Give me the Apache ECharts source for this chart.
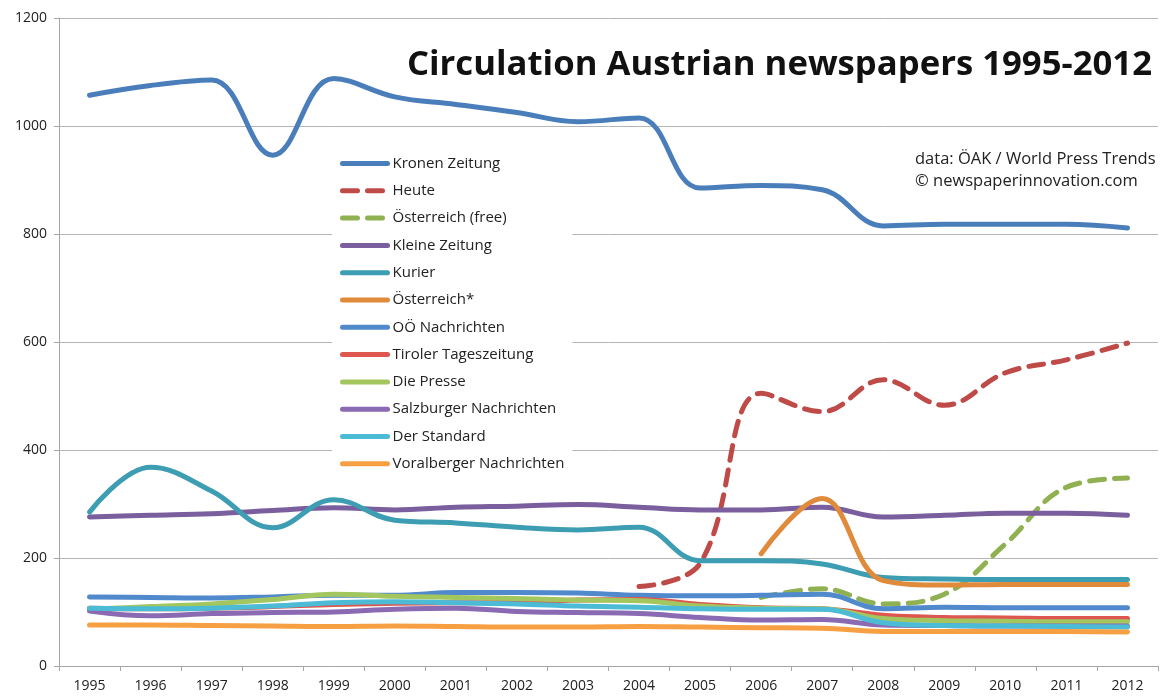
<!DOCTYPE html>
<html>
<head>
<meta charset="utf-8">
<script src="https://cdn.jsdelivr.net/npm/echarts@6/dist/echarts.min.js"></script>
<style>
  html, body { margin: 0; padding: 0; background: #fff; }
  #chart { width: 1160px; height: 696px; }
</style>
</head>
<body>
<div id="chart"></div>
<script>
const years = ['1995','1996','1997','1998','1999','2000','2001','2002','2003','2004','2005','2006','2007','2008','2009','2010','2011','2012']
const yTicks = [0, 200, 400, 600, 800, 1000, 1200]

// circulation in thousands
const kronenZeitung = [1057, 1075, 1085, 946, 1088, 1054, 1040, 1025, 1008, 1015, 885, 890, 882, 815, 818, 818, 818, 811]
const heute = [null, null, null, null, null, null, null, null, null, 147, 190, 505, 471, 530, 483, 543, 567, 598]
const oesterreichFree = [null, null, null, null, null, null, null, null, null, null, null, 127, 143, 115, 133, 226, 331, 348]
const kleineZeitung = [276, 279, 282, 288, 293, 289, 294, 296, 299, 294, 289, 289, 294, 276, 279, 283, 283, 279]
const kurier = [285, 368, 324, 256, 308, 270, 265, 257, 252, 257, 195, 195, 189, 164, 161, 160, 160, 160]
const oesterreich = [null, null, null, null, null, null, null, null, null, null, null, 208, 310, 158, 150, 151, 151, 151]
const ooeNachrichten = [128, 127, 126, 128, 131, 131, 136, 136, 135, 131, 130, 131, 133, 106, 109, 108, 108, 108]
const tirolerTageszeitung = [107, 106, 107, 110, 114, 116, 117, 118, 122, 123, 114, 108, 106, 94, 90, 89, 88, 88]
const diePresse = [105, 110, 115, 123, 133, 129, 127, 125, 122, 121, 111, 107, 106, 88, 84, 83, 82, 82]
const salzburgerNachrichten = [102, 93, 97, 99, 100, 105, 107, 101, 99, 97, 90, 85, 86, 76, 75, 74, 74, 74]
const derStandard = [107, 106, 107, 111, 117, 119, 117, 115, 111, 109, 106, 105, 105, 80, 75, 74, 73, 72]
const voralbergerNachrichten = [76, 76, 75, 74, 73, 74, 73, 72, 72, 73, 72, 71, 70, 64, 64, 64, 64, 63]

const FONT = '"Open Sans", "Noto Sans", sans-serif'

function line(name, data, color, dashed) {
  return {
    name,
    type: 'line',
    data,
    smooth: 0.4,
    symbol: 'none',
    connectNulls: false,
    lineStyle: {
      color,
      width: 5,
      cap: 'round',
      join: 'round',
      type: dashed ? [15, 10] : 'solid'
    },
    itemStyle: { color }
  }
}

const chart = echarts.init(document.getElementById('chart'))

const option = {
  animation: false,
  backgroundColor: '#fff',
  grid: { left: 59, right: 2, top: 18, bottom: 30 },
  graphic: [
    {
      type: 'text',
      right: 8,
      top: 48,
      style: { text: 'Circulation Austrian newspapers 1995-2012', font: 'bold 34.7px ' + FONT, fill: '#111' }
    },
    {
      type: 'text',
      left: 915,
      top: 151,
      style: { text: 'data: ÖAK / World Press Trends', font: '16.5px ' + FONT, fill: '#222' }
    },
    {
      type: 'text',
      left: 915,
      top: 173,
      style: { text: '© newspaperinnovation.com', font: '16.5px ' + FONT, fill: '#222' }
    }
  ],
  legend: {
    orient: 'vertical',
    left: 332,
    top: 148,
    padding: [8, 8, 8, 8],
    backgroundColor: '#fff',
    itemWidth: 45,
    itemHeight: 14,
    itemGap: 12.3,
    itemStyle: { opacity: 0 },
    lineStyle: { width: 5, cap: 'round' },
    textStyle: { color: '#222', fontSize: 15, fontFamily: FONT },
    data: ['Kronen Zeitung', 'Heute', 'Österreich (free)', 'Kleine Zeitung', 'Kurier', 'Österreich*',
      'OÖ Nachrichten', 'Tiroler Tageszeitung', 'Die Presse', 'Salzburger Nachrichten', 'Der Standard', 'Voralberger Nachrichten']
  },
  xAxis: {
    type: 'category',
    data: years,
    boundaryGap: true,
    axisLine: { lineStyle: { color: '#a6a6a6', width: 1 } },
    axisTick: { show: true, inside: false, length: 5, lineStyle: { color: '#a6a6a6' } },
    axisLabel: { color: '#222', fontSize: 14, fontFamily: FONT, margin: 13, interval: 0 },
    splitLine: { show: false }
  },
  yAxis: {
    type: 'value',
    min: yTicks[0],
    max: yTicks[yTicks.length - 1],
    interval: 200,
    axisLine: { show: true, lineStyle: { color: '#a6a6a6', width: 1 } },
    axisTick: { show: true, length: 5, lineStyle: { color: '#a6a6a6' } },
    axisLabel: { color: '#222', fontSize: 14, fontFamily: FONT, margin: 12, formatter: v => String(v) },
    splitLine: { lineStyle: { color: '#b4b4b4', width: 1 } }
  },
  series: [
    line('Kronen Zeitung', kronenZeitung, '#4a7ebb'),
    line('Heute', heute, '#be4b48', true),
    line('Österreich (free)', oesterreichFree, '#8fb151', true),
    line('Kleine Zeitung', kleineZeitung, '#7a5e9e'),
    line('Kurier', kurier, '#3d9db3'),
    line('Österreich*', oesterreich, '#e08a3c'),
    line('OÖ Nachrichten', ooeNachrichten, '#5089cc'),
    line('Tiroler Tageszeitung', tirolerTageszeitung, '#dd5650'),
    line('Die Presse', diePresse, '#a4c65f'),
    line('Salzburger Nachrichten', salzburgerNachrichten, '#8a6bb3'),
    line('Der Standard', derStandard, '#4bbbd6'),
    line('Voralberger Nachrichten', voralbergerNachrichten, '#f7a043')
  ]
}

chart.setOption(option)
</script>
</body>
</html>
